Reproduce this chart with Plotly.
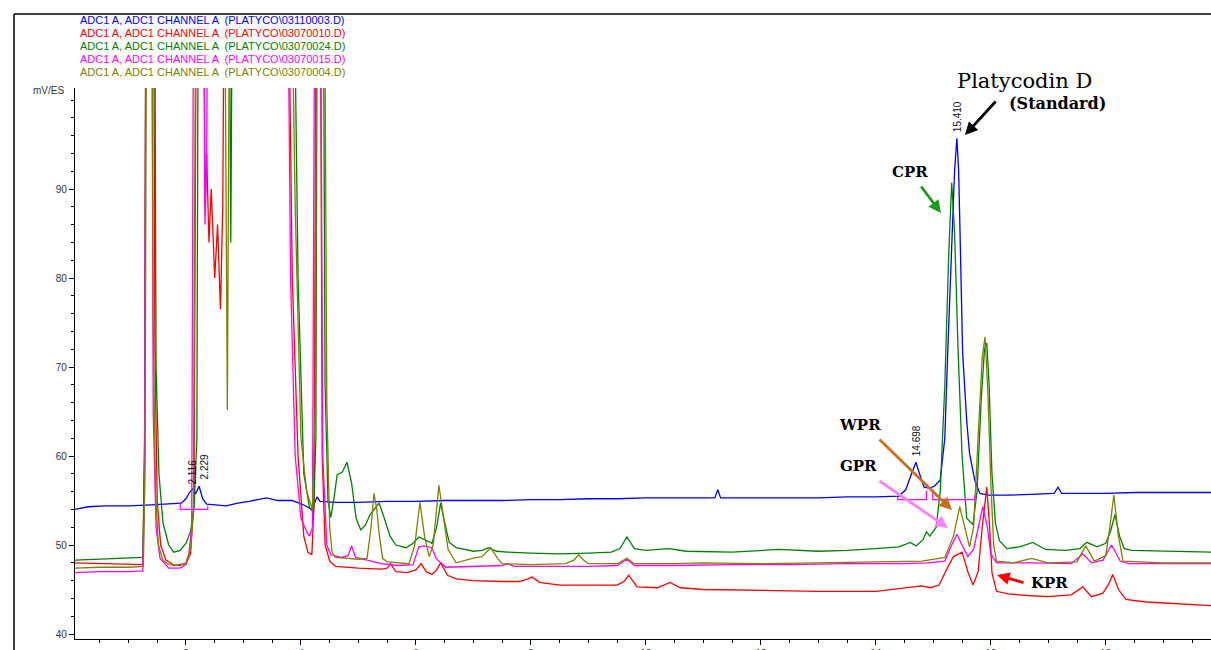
import plotly.graph_objects as go

# ---------------- data (retention time in min, signal in mV/ES) ----------------
t_std = [0.07, 0.3, 0.6, 1.0, 1.4, 1.8, 1.92, 2.0, 2.06, 2.116,
         2.17, 2.229, 2.29, 2.36, 2.5, 2.7, 2.9, 3.1, 3.4, 3.6,
         3.85, 4.05, 4.19, 4.25, 4.28, 4.33, 4.6, 5.0, 5.5, 6.0,
         6.5, 7.0, 7.5, 8.0, 8.5, 9.0, 9.5, 10.0, 10.5, 11.0,
         11.2, 11.25, 11.3, 11.6, 12.0, 12.5, 13.0, 13.5, 14.0, 14.4,
         14.52, 14.62, 14.698, 14.76, 14.84, 14.92, 15.02, 15.12, 15.2, 15.25,
         15.32, 15.37, 15.41, 15.44, 15.46, 15.51, 15.58, 15.63, 15.72, 15.81,
         15.95, 16.3, 16.7, 17.1, 17.17, 17.23, 17.6, 18.0, 18.5, 19.0,
         19.5, 19.83]
mv_std = [54.0, 54.3, 54.4, 54.4, 54.5, 54.6, 54.7, 55.2, 55.9, 56.3,
          55.8, 56.6, 55.2, 54.6, 54.5, 54.4, 54.7, 54.9, 55.3, 55.0,
          55.0, 54.5, 54.0, 55.0, 55.4, 54.9, 54.8, 54.8, 54.9, 54.9,
          55.0, 55.0, 55.0, 55.1, 55.1, 55.2, 55.2, 55.3, 55.3, 55.3,
          55.3, 56.2, 55.3, 55.3, 55.3, 55.3, 55.3, 55.4, 55.4, 55.5,
          56.2, 58.0, 59.3, 58.0, 56.5, 56.4, 56.6, 57.3, 62.0, 71.6,
          82.8, 92.1, 95.7, 92.1, 86.5, 71.6, 64.0, 60.3, 57.3, 55.8,
          55.6, 55.6, 55.7, 55.8, 56.5, 55.8, 55.8, 55.8, 55.9, 55.9,
          55.9, 55.9]

t_kpr = [0.07, 0.6, 1.0, 1.25, 1.28, 1.31, 1.43, 1.46, 1.5, 1.56,
         1.65, 1.8, 2.0, 2.08, 2.14, 2.19, 2.3, 2.33, 2.36, 2.4,
         2.44, 2.5, 2.55, 2.6, 2.64, 2.68, 3.75, 3.85, 3.95, 4.05,
         4.12, 4.19, 4.23, 4.27, 4.33, 4.37, 4.42, 4.5, 4.6, 5.0,
         5.4, 5.5, 5.56, 5.65, 5.85, 6.0, 6.09, 6.18, 6.28, 6.36,
         6.43, 6.55, 6.7, 7.0, 7.5, 7.8, 7.95, 8.02, 8.15, 8.5,
         9.0, 9.5, 9.62, 9.7, 9.85, 10.2, 10.42, 10.6, 11.0, 12.0,
         13.0, 14.0, 14.6, 14.8, 14.95, 15.1, 15.25, 15.35, 15.5, 15.6,
         15.69, 15.78, 15.85, 15.93, 15.98, 16.02, 16.1, 16.3, 16.7, 17.0,
         17.4, 17.6, 17.75, 17.95, 18.05, 18.12, 18.22, 18.35, 18.7, 19.2,
         19.83]
mv_kpr = [48.0, 47.9, 47.9, 47.8, 60.0, 130.0, 130.0, 72.0, 55.0, 50.0,
          48.3, 47.7, 47.9, 49.0, 55.0, 130.0, 130.0, 88.0, 94.0, 84.0,
          90.0, 80.0, 86.0, 76.5, 88.0, 130.0, 130.0, 80.0, 60.0, 51.0,
          49.2, 48.9, 55.0, 130.0, 130.0, 60.0, 50.0, 48.2, 47.6, 47.4,
          47.3, 47.4, 47.9, 47.0, 46.9, 47.2, 47.9, 47.0, 46.7, 47.2,
          48.0, 46.6, 46.2, 46.0, 45.9, 45.9, 46.2, 46.4, 45.8, 45.5,
          45.5, 45.5, 45.9, 46.6, 45.3, 45.2, 45.8, 45.2, 45.0, 44.9,
          44.8, 44.8, 45.2, 45.4, 45.2, 45.5, 47.5, 48.7, 49.2, 47.0,
          45.5, 47.0, 52.0, 56.5, 52.0, 46.9, 44.8, 44.5, 44.3, 44.2,
          44.4, 45.3, 44.2, 44.6, 45.6, 46.7, 45.0, 43.9, 43.6, 43.4,
          43.2]

t_cpr = [0.07, 0.5, 1.0, 1.25, 1.28, 1.31, 1.45, 1.48, 1.53, 1.6,
         1.7, 1.79, 1.9, 2.0, 2.08, 2.14, 2.19, 2.22, 2.74, 2.78,
         2.82, 3.85, 3.95, 4.05, 4.15, 4.22, 4.26, 4.29, 4.38, 4.42,
         4.47, 4.52, 4.58, 4.63, 4.72, 4.80, 4.88, 4.96, 5.04, 5.12,
         5.2, 5.36, 5.45, 5.55, 5.65, 5.83, 5.95, 6.05, 6.15, 6.28,
         6.36, 6.43, 6.5, 6.58, 6.7, 7.0, 7.15, 7.27, 7.4, 7.6,
         8.0, 8.5, 9.0, 9.4, 9.55, 9.67, 9.8, 10.0, 10.4, 10.7,
         11.5, 12.3, 13.0, 13.5, 14.0, 14.4, 14.6, 14.7, 14.82, 14.88,
         14.94, 15.05, 15.12, 15.2, 15.27, 15.32, 15.37, 15.43, 15.5, 15.58,
         15.69, 15.76, 15.83, 15.89, 15.93, 15.97, 16.02, 16.08, 16.15, 16.28,
         16.5, 16.73, 16.95, 17.3, 17.55, 17.67, 17.85, 18.0, 18.08, 18.16,
         18.24, 18.32, 18.45, 19.0, 19.5, 19.83]
mv_cpr = [48.3, 48.4, 48.5, 48.6, 62.0, 130.0, 130.0, 70.0, 58.0, 52.5,
          50.0, 49.2, 49.4, 50.2, 51.5, 54.0, 62.0, 130.0, 130.0, 84.0,
          130.0, 130.0, 80.0, 58.0, 54.2, 53.6, 62.0, 130.0, 130.0, 68.0,
          55.0, 53.1, 55.5, 57.9, 58.2, 59.3, 57.0, 53.0, 51.7, 52.2,
          53.4, 54.7, 53.0, 51.0, 50.0, 49.7, 50.2, 50.9, 50.6, 50.2,
          52.0, 54.7, 52.5, 50.3, 49.7, 49.3, 49.4, 49.7, 49.3, 49.2,
          49.1, 49.0, 49.1, 49.2, 49.6, 50.9, 49.6, 49.4, 49.6, 49.3,
          49.2, 49.5, 49.3, 49.4, 49.6, 49.8, 50.3, 49.9, 50.6, 51.5,
          51.0, 52.0, 56.0, 68.0, 83.0, 90.7, 85.0, 72.0, 60.0, 53.0,
          52.3, 56.0, 66.0, 72.0, 72.7, 68.0, 58.0, 52.5, 50.5, 49.6,
          49.8, 50.3, 49.5, 49.4, 49.6, 50.3, 49.8, 50.2, 51.5, 53.4,
          51.0, 49.6, 49.4, 49.3, 49.2, 49.2]

t_gpr = [0.07, 0.5, 1.0, 1.25, 1.28, 1.31, 1.40, 1.43, 1.48, 1.55,
         1.7, 1.9, 2.0, 2.05, 2.1, 2.14, 2.3, 2.33, 2.36, 2.39,
         3.75, 3.82, 3.9, 4.0, 4.1, 4.15, 4.2, 4.25, 4.33, 4.38,
         4.45, 4.52, 4.7, 4.82, 4.88, 4.95, 5.1, 5.4, 5.7, 5.95,
         6.05, 6.15, 6.28, 6.35, 6.52, 7.0, 7.5, 7.6, 7.7, 8.5,
         9.0, 9.5, 9.67, 9.8, 10.5, 11.5, 12.5, 13.5, 14.5, 14.9,
         15.2, 15.32, 15.41, 15.5, 15.6, 15.7, 15.78, 15.86, 15.94, 16.0,
         16.1, 16.7, 17.4, 17.6, 17.75, 17.95, 18.1, 18.25, 18.4, 19.83]
mv_gpr = [46.9, 47.0, 47.0, 47.1, 56.0, 130.0, 130.0, 65.0, 52.0, 48.5,
          47.4, 47.4, 47.8, 49.0, 52.0, 130.0, 130.0, 86.0, 92.0, 130.0,
          130.0, 80.0, 60.0, 53.0, 51.5, 51.0, 52.0, 130.0, 130.0, 60.0,
          50.0, 48.9, 48.6, 48.8, 49.9, 48.6, 48.4, 47.9, 47.7, 47.8,
          49.8, 49.9, 49.7, 48.5, 47.5, 47.6, 47.7, 47.9, 47.6, 47.6,
          47.6, 47.7, 48.4, 47.7, 47.7, 47.8, 47.8, 47.9, 47.9, 48.0,
          48.2, 50.0, 51.2, 50.0, 48.7, 49.5, 52.0, 54.3, 52.0, 49.0,
          48.0, 48.0, 47.9, 49.0, 48.0, 48.3, 50.0, 48.2, 47.9, 47.9]

t_wpr = [0.07, 0.5, 1.0, 1.26, 1.29, 1.32, 1.40, 1.43, 1.47, 1.52,
         1.6, 1.7, 1.9, 2.0, 2.08, 2.13, 2.18, 2.66, 2.72, 2.77,
         3.8, 3.9, 4.0, 4.1, 4.2, 4.25, 4.28, 4.4, 4.45, 4.5,
         4.54, 4.6, 5.0, 5.15, 5.22, 5.27, 5.32, 5.36, 5.42, 5.5,
         5.88, 5.98, 6.07, 6.15, 6.23, 6.3, 6.4, 6.48, 6.56, 6.7,
         6.98, 7.15, 7.3, 7.42, 7.5, 8.0, 8.6, 8.75, 8.83, 8.92,
         9.0, 9.5, 9.67, 9.8, 10.5, 11.0, 12.0, 13.0, 14.0, 14.8,
         15.2, 15.35, 15.46, 15.55, 15.63, 15.7, 15.78, 15.85, 15.9, 15.95,
         16.0, 16.05, 16.1, 16.4, 16.71, 17.0, 17.5, 17.65, 17.8, 18.0,
         18.07, 18.14, 18.22, 18.3, 19.0, 19.83]
mv_wpr = [47.4, 47.5, 47.5, 47.6, 60.0, 130.0, 130.0, 75.0, 56.0, 50.0,
          48.3, 47.8, 47.7, 48.0, 49.5, 54.0, 130.0, 130.0, 65.2, 130.0,
          130.0, 88.0, 62.0, 56.0, 54.0, 66.0, 130.0, 130.0, 66.0, 52.0,
          49.2, 48.6, 48.4, 48.5, 52.0, 55.8, 54.0, 51.3, 48.5, 48.1,
          47.9, 50.0, 54.8, 51.0, 48.7, 50.0, 56.7, 53.0, 49.5, 48.0,
          48.5, 48.7, 49.7, 48.5, 47.9, 47.8, 47.9, 48.3, 48.9, 48.3,
          47.9, 47.9, 48.5, 47.9, 47.9, 48.0, 47.9, 48.0, 48.1, 48.2,
          48.6, 51.0, 54.3, 52.0, 49.8, 52.0, 62.0, 71.0, 73.4, 67.0,
          57.0, 50.0, 48.2, 48.0, 48.5, 48.0, 48.1, 49.9, 48.2, 48.8,
          52.0, 55.6, 51.0, 48.2, 48.0, 48.0]

# integration baselines drawn by the data system (standard run)
t_base = [1.90, 1.90, 2.38, 2.38, None, 14.38, 14.38, 14.88, 14.88, None, 14.99, 14.99, 15.72, 15.72]
mv_base = [54.8, 54.0, 54.0, 54.4, None, 55.4, 55.1, 55.1, 56.1, None, 56.2, 55.1, 55.1, 55.6]

# labelled peaks of the standard run: (retention time, apex)
peak_rt = [2.116, 2.229, 14.698, 15.410]
peak_apex = [56.3, 56.6, 59.3, 95.7]
peak_text = ["2.116", "2.229", "14.698", "15.410"]

legend_lines = [
    "ADC1 A, ADC1 CHANNEL A  (PLATYCO\\03110003.D)",
    "ADC1 A, ADC1 CHANNEL A  (PLATYCO\\03070010.D)",
    "ADC1 A, ADC1 CHANNEL A  (PLATYCO\\03070024.D)",
    "ADC1 A, ADC1 CHANNEL A  (PLATYCO\\03070015.D)",
    "ADC1 A, ADC1 CHANNEL A  (PLATYCO\\03070004.D)",
]
colors = ["#0000ff", "#ff0000", "#008000", "#ff00ff", "#808000"]

x_ticks = [2, 4, 6, 8, 10, 12, 14, 16, 18]
y_ticks = [40, 50, 60, 70, 80, 90]

# ---------------- layout geometry (window pixels; page margin removed below) ----------------
W, H = 1211, 650
ML, MR, MT, MB = 75, 0, 88, 11
PW, PH = W - ML - MR, H - MT - MB


def P(px, py):
    """window pixel -> paper coordinates"""
    return dict(x=(px - ML) / PW, y=(H - MB - py) / PH, xref="paper", yref="paper")


fig = go.Figure()
series = [(t_std, mv_std), (t_kpr, mv_kpr), (t_cpr, mv_cpr), (t_gpr, mv_gpr), (t_wpr, mv_wpr)]
for (tx, ty), c in zip(series, colors):
    fig.add_trace(go.Scatter(x=tx, y=ty, mode="lines", line=dict(color=c, width=1.3),
                             showlegend=False, hoverinfo="skip"))
fig.add_trace(go.Scatter(x=t_base, y=mv_base, mode="lines", line=dict(color="#ff00ff", width=1.2),
                         showlegend=False, hoverinfo="skip", connectgaps=False))

ann = []
for i, (txt, c) in enumerate(zip(legend_lines, colors)):
    ann.append(dict(**P(78, 20 + 13 * i), text=txt, showarrow=False, xanchor="left", yanchor="middle",
                    font=dict(family="Liberation Sans", size=11, color=c)))
ann.append(dict(**P(66, 90), text="mV/ES", showarrow=False, xanchor="right", yanchor="middle",
                font=dict(family="Liberation Sans", size=10, color="#333333")))
shifts = [(0, 17), (5, 19), (0, 22), (0, 22)]
for rt, ap, tx, (dx, dy) in zip(peak_rt, peak_apex, peak_text, shifts):
    ann.append(dict(x=rt, y=ap, xref="x", yref="y", text=tx, showarrow=False, textangle=-90,
                    xshift=dx, yshift=dy, xanchor="center", yanchor="middle",
                    font=dict(family="Liberation Sans", size=10, color="#111111")))

serif = "DejaVu Serif"
ann.append(dict(**P(1024, 81), text="Platycodin D", showarrow=False, xanchor="center", yanchor="middle",
                font=dict(family=serif, size=21, color="black")))
ann.append(dict(**P(1057, 103), text="<b>(Standard)</b>", showarrow=False, xanchor="center", yanchor="middle",
                font=dict(family=serif, size=16, color="black")))
for txt, (cx, cy) in [("CPR", (910, 172)), ("WPR", (860, 425)), ("GPR", (858, 466)), ("KPR", (1049, 583))]:
    ann.append(dict(**P(cx, cy), text="<b>" + txt + "</b>", showarrow=False, xanchor="center",
                    yanchor="middle", font=dict(family=serif, size=15, color="black")))

arrows = [(965, 135, 997, 100, "black"),
          (941, 213, 920, 185, "#1a9a1a"),
          (952, 510, 878, 438, "#c8701e"),
          (948, 528, 878, 480, "#ff80ff"),
          (997, 575, 1025, 583, "#ff0000")]
for hx, hy, tx, ty, c in arrows:
    ann.append(dict(**P(hx, hy), text="", showarrow=True, ax=tx - hx, ay=ty - hy,
                    arrowhead=2, arrowsize=0.9, arrowwidth=2.8, arrowcolor=c))

fr = P(14, 14)
shapes = [
    dict(type="line", xref="paper", yref="paper", x0=fr["x"], y0=fr["y"], x1=1.05, y1=fr["y"],
         line=dict(color="black", width=1.5)),
    dict(type="line", xref="paper", yref="paper", x0=fr["x"], y0=fr["y"], x1=fr["x"], y1=-0.1,
         line=dict(color="black", width=1.5)),
]

fig.update_layout(
    width=W, height=H, autosize=False,
    margin=dict(l=ML, r=MR, t=MT, b=MB, pad=0, autoexpand=False),
    paper_bgcolor="white", plot_bgcolor="white",
    annotations=ann, shapes=shapes,
    xaxis=dict(range=[0.07, 19.83], automargin=False, showgrid=False, zeroline=False, showline=True,
               linecolor="black", linewidth=1.3, ticks="outside", ticklen=5, tickcolor="black",
               tickvals=x_ticks, ticktext=[str(v) for v in x_ticks],
               tickfont=dict(family="Liberation Sans", size=10, color="#333333"),
               minor=dict(dtick=0.5, ticks="outside", ticklen=3, tickcolor="black", showgrid=False)),
    yaxis=dict(range=[39.44, 101.35], automargin=False, showgrid=False, zeroline=False, showline=True,
               linecolor="black", linewidth=1.3, ticks="outside", ticklen=5, tickcolor="black",
               tickvals=y_ticks, ticktext=[str(v) for v in y_ticks],
               tickfont=dict(family="Liberation Sans", size=10, color="#333333"),
               minor=dict(dtick=2, ticks="outside", ticklen=3, tickcolor="black", showgrid=False)),
)

fig.write_html("out.html", config={"displayModeBar": False},
               post_script="document.body.style.margin='0';document.body.style.overflow='hidden';")
